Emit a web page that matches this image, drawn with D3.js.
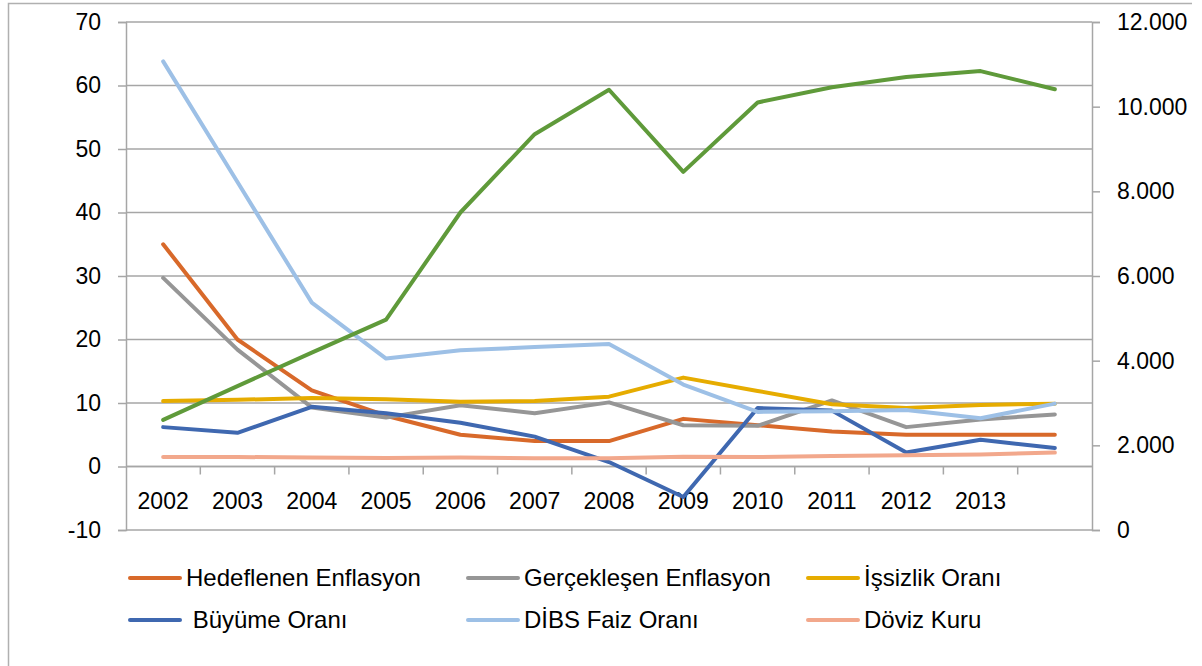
<!DOCTYPE html>
<html>
<head>
<meta charset="utf-8">
<script src="https://cdn.jsdelivr.net/npm/d3@7"></script>
<style>
  body { margin: 0; background: #fff; }
  svg text { font-family: "Liberation Sans", Arial, sans-serif; fill: #000; }
</style>
</head>
<body>
<div id="chart"></div>
<script>
/* DATA */
const years = [2002, 2003, 2004, 2005, 2006, 2007, 2008, 2009, 2010, 2011, 2012, 2013, 2014];
const yearLabels = ["2002", "2003", "2004", "2005", "2006", "2007", "2008", "2009", "2010", "2011", "2012", "2013", ""];

const hedeflenen = [35, 20, 12, 8, 5, 4, 4, 7.5, 6.5, 5.5, 5, 5, 5];
const gerceklesen = [29.7, 18.4, 9.3, 7.7, 9.65, 8.4, 10.1, 6.5, 6.4, 10.4, 6.2, 7.4, 8.2];
const issizlik = [10.3, 10.5, 10.8, 10.6, 10.2, 10.3, 11.0, 14.0, 11.9, 9.8, 9.2, 9.7, 9.9];
const buyume = [6.2, 5.3, 9.4, 8.4, 6.9, 4.7, 0.7, -4.8, 9.2, 8.8, 2.2, 4.2, 2.9];
const dibs = [63.8, 44.8, 25.8, 17.0, 18.3, 18.8, 19.3, 12.9, 8.6, 8.7, 8.9, 7.6, 9.9];
const doviz = [1.51, 1.49, 1.43, 1.34, 1.43, 1.30, 1.30, 1.55, 1.50, 1.67, 1.79, 1.90, 2.19];
// secondary axis series (no legend entry)
const ikinciEksen = [2600, 3400, 4190, 4970, 7500, 9350, 10400, 8460, 10100, 10460, 10700, 10840, 10410];

const leftTicks = [-10, 0, 10, 20, 30, 40, 50, 60, 70];
const rightTicks = [0, 2000, 4000, 6000, 8000, 10000, 12000];

const seriesNames = ["Hedeflenen Enflasyon", "Gerçekleşen Enflasyon", "İşsizlik Oranı",
                     " Büyüme Oranı", "DİBS Faiz Oranı", "Döviz Kuru"];
const seriesColors = ["#d8692a", "#969696", "#e6ac00", "#3f68b0", "#9dc0e6", "#f2a88c"];
const greenColor = "#5f9a3a";

/* LAYOUT */
const W = 1202, H = 666;
const plot = { left: 126, right: 1092, top: 22, bottom: 530 };
const gridColor = "#a6a6a6";

const svg = d3.select("#chart").append("svg")
  .attr("width", W)
  .attr("height", H);

// outer chart border (top + left, as in screenshot)
svg.append("path")
  .attr("d", `M8.5,${H} L8.5,3.5 L1192,3.5`)
  .attr("fill", "none")
  .attr("stroke", "#b0b0b0")
  .attr("stroke-width", 1.5);

/* SCALES */
const x = d3.scaleBand()
  .domain(years)
  .range([plot.left, plot.right]);

const yLeft = d3.scaleLinear()
  .domain([-10, 70])
  .range([plot.bottom, plot.top]);

const yRight = d3.scaleLinear()
  .domain([0, 12000])
  .range([plot.bottom, plot.top]);

const trLocale = d3.formatLocale({ decimal: ",", thousands: ".", grouping: [3], currency: ["", "TL"], minus: "-" });
const fmtRight = trLocale.format(",.0f");
const fmtLeft = trLocale.format("d");

/* GRIDLINES */
svg.append("g")
  .selectAll("line")
  .data(leftTicks)
  .join("line")
  .attr("x1", plot.left)
  .attr("x2", plot.right)
  .attr("y1", d => yLeft(d))
  .attr("y2", d => yLeft(d))
  .attr("stroke", gridColor)
  .attr("stroke-width", 1.5);

/* AXES */
const leftAxis = svg.append("g")
  .attr("transform", `translate(${plot.left},0)`)
  .call(d3.axisLeft(yLeft).tickValues(leftTicks).tickSize(8).tickPadding(17).tickFormat(fmtLeft));

const rightAxis = svg.append("g")
  .attr("transform", `translate(${plot.right},0)`)
  .call(d3.axisRight(yRight).tickValues(rightTicks).tickSize(8).tickPadding(17).tickFormat(fmtRight));

// category axis at value 0, ticks on band boundaries
const xAxisG = svg.append("g")
  .attr("transform", `translate(0,${yLeft(0)})`);

xAxisG.append("line")
  .attr("x1", plot.left)
  .attr("x2", plot.right)
  .attr("stroke", gridColor)
  .attr("stroke-width", 1.5);

xAxisG.selectAll(".xtick")
  .data(years.slice(1))
  .join("line")
  .attr("class", "xtick")
  .attr("x1", d => x(d))
  .attr("x2", d => x(d))
  .attr("y1", 0)
  .attr("y2", 8)
  .attr("stroke", gridColor)
  .attr("stroke-width", 1.5);

xAxisG.selectAll("text")
  .data(years)
  .join("text")
  .attr("x", d => x(d) + x.bandwidth() / 2)
  .attr("y", 42)
  .attr("text-anchor", "middle")
  .attr("font-size", 23)
  .text((d, i) => yearLabels[i]);

[leftAxis, rightAxis].forEach(g => {
  g.select(".domain").attr("stroke", gridColor).attr("stroke-width", 1.5);
  g.selectAll(".tick line").attr("stroke", gridColor).attr("stroke-width", 1.5);
  g.selectAll(".tick text").attr("font-size", 23).attr("fill", "#000");
});

/* LINES */
const lineLeft = d3.line()
  .x((d, i) => x(years[i]) + x.bandwidth() / 2)
  .y(d => yLeft(d));

const lineRight = d3.line()
  .x((d, i) => x(years[i]) + x.bandwidth() / 2)
  .y(d => yRight(d));

const leftSeries = [hedeflenen, gerceklesen, issizlik, buyume, dibs, doviz];

svg.append("g")
  .selectAll("path")
  .data(leftSeries)
  .join("path")
  .attr("d", d => lineLeft(d))
  .attr("fill", "none")
  .attr("stroke", (d, i) => seriesColors[i])
  .attr("stroke-width", 4)
  .attr("stroke-linejoin", "round")
  .attr("stroke-linecap", "round");

svg.append("path")
  .attr("d", lineRight(ikinciEksen))
  .attr("fill", "none")
  .attr("stroke", greenColor)
  .attr("stroke-width", 4)
  .attr("stroke-linejoin", "round")
  .attr("stroke-linecap", "round");

/* LEGEND */
const legendCols = [130, 468, 808];
const legendRows = [578, 620];

const legend = svg.append("g")
  .selectAll("g")
  .data(seriesNames)
  .join("g")
  .attr("transform", (d, i) => `translate(${legendCols[i % 3]},${legendRows[Math.floor(i / 3)]})`);

legend.append("line")
  .attr("x1", 0)
  .attr("x2", 50)
  .attr("stroke", (d, i) => seriesColors[i])
  .attr("stroke-width", 4)
  .attr("stroke-linecap", "round");

legend.append("text")
  .attr("x", 56)
  .attr("y", 8)
  .attr("font-size", 24)
  .style("white-space", "pre")
  .text(d => d);
</script>
</body>
</html>
